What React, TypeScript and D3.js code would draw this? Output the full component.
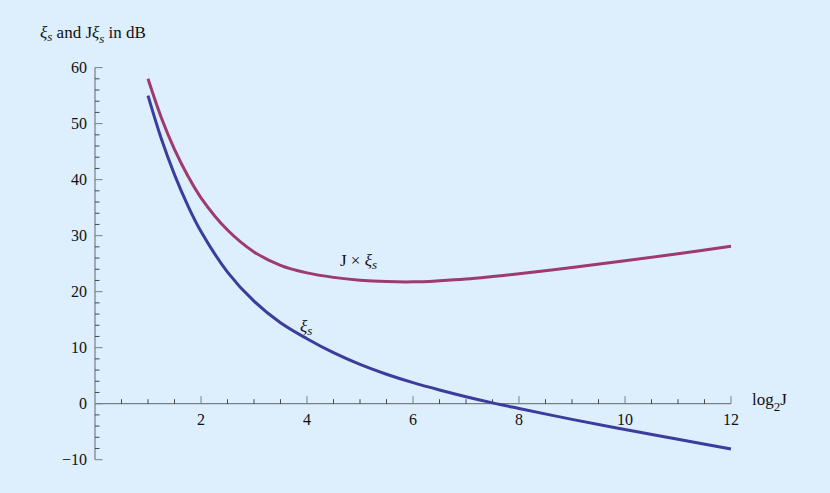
import React from "react";
import * as d3 from "d3";

const W = 830;
const H = 493;

const xValues = [1, 1.25, 1.5, 1.75, 2, 2.5, 3, 3.5, 4, 4.5, 5, 5.5, 6, 6.5, 7, 7.5, 8, 9, 10, 11, 12];
const xiS = [55.0, 47.35, 40.9, 35.4, 30.74, 23.5, 18.3, 14.45, 11.6, 9.1, 7.0, 5.25, 3.75, 2.45, 1.25, 0.15, -0.85, -2.8, -4.6, -6.35, -8.1];
const jXiS = [58.0, 51.1, 45.4, 40.7, 36.76, 31.0, 27.1, 24.7, 23.35, 22.55, 22.05, 21.8, 21.75, 21.95, 22.25, 22.7, 23.2, 24.3, 25.5, 26.75, 28.1];

const xMajorTicks = [2, 4, 6, 8, 10, 12];
const yMajorTicks = [-10, 0, 10, 20, 30, 40, 50, 60];

const BG = "#ddeefd";
const AXIS = "#7a7f88";
const BLUE = "#3c3c9d";
const PURPLE = "#9d3a6e";
const FONT = "'Liberation Serif', 'DejaVu Serif', serif";

export default function App() {
  const x = d3.scaleLinear().domain([0, 12]).range([95, 731]);
  const y = d3.scaleLinear().domain([-10, 60]).range([459.7, 67.6]);

  const line = (vals: number[]) =>
    d3
      .line<number>()
      .x((_, i) => x(xValues[i]))
      .y((d) => y(d))
      .curve(d3.curveCatmullRom.alpha(0.5))(vals) || "";

  const xMinor = d3.range(1, 25).map((k) => k * 0.5).filter((v) => !xMajorTicks.includes(v));
  const yMinor = d3.range(-10, 61, 2).filter((v) => v % 10 !== 0);

  const x0 = x(0);
  const y0 = y(0);

  return (
    <div style={{ position: "absolute", left: 0, top: 0 }}>
      <svg width={W} height={H} style={{ display: "block" }}>
        <rect x={0} y={0} width={W} height={H} fill={BG} />
        {/* axes */}
        <line x1={x0} x2={x(12)} y1={y0} y2={y0} stroke={AXIS} strokeWidth={1.2} />
        <line x1={x0} x2={x0} y1={y(-10)} y2={y(60)} stroke={AXIS} strokeWidth={1.2} />
        {xMajorTicks.map((t) => (
          <g key={"xm" + t}>
            <line x1={x(t)} x2={x(t)} y1={y0} y2={y0 - 7.5} stroke={AXIS} strokeWidth={1} />
            <text x={x(t)} y={y0 + 21} textAnchor="middle" fontFamily={FONT} fontSize={16} fill="#111">
              {t}
            </text>
          </g>
        ))}
        {xMinor.map((t) => (
          <line key={"xn" + t} x1={x(t)} x2={x(t)} y1={y0} y2={y0 - 4.5} stroke="#333" strokeWidth={0.9} />
        ))}
        {yMajorTicks.map((t) => (
          <g key={"ym" + t}>
            <line x1={x0} x2={x0 + 7.5} y1={y(t)} y2={y(t)} stroke={AXIS} strokeWidth={1} />
            <text x={87} y={y(t) + 5.5} textAnchor="end" fontFamily={FONT} fontSize={16} fill="#111">
              {t < 0 ? "\u2212" + Math.abs(t) : t}
            </text>
          </g>
        ))}
        {yMinor.map((t) => (
          <line key={"yn" + t} x1={x0} x2={x0 + 4.5} y1={y(t)} y2={y(t)} stroke="#333" strokeWidth={0.9} />
        ))}
        {/* curves */}
        <path d={line(jXiS)} fill="none" stroke={PURPLE} strokeWidth={3} />
        <path d={line(xiS)} fill="none" stroke={BLUE} strokeWidth={3} />
        {/* labels */}
        <text x={40} y={38} fontFamily={FONT} fontSize={17} fill="#111">
          <tspan fontStyle="italic">ξ</tspan>
          <tspan fontStyle="italic" fontSize={13} dy={3}>s</tspan>
          <tspan dy={-3}> and J</tspan>
          <tspan fontStyle="italic">ξ</tspan>
          <tspan fontStyle="italic" fontSize={13} dy={5}>s</tspan>
          <tspan dy={-5}> in dB</tspan>
        </text>
        <text x={752} y={405} fontFamily={FONT} fontSize={17} fill="#111">
          <tspan>log</tspan>
          <tspan fontSize={13} dy={6}>2</tspan>
          <tspan dy={-6}>J</tspan>
        </text>
        <text x={340} y={266} fontFamily={FONT} fontSize={17} fill="#111">
          <tspan>J × </tspan>
          <tspan fontStyle="italic">ξ</tspan>
          <tspan fontStyle="italic" fontSize={13} dy={3}>s</tspan>
        </text>
        <text x={300} y={332} fontFamily={FONT} fontSize={17} fill="#111">
          <tspan fontStyle="italic">ξ</tspan>
          <tspan fontStyle="italic" fontSize={13} dy={3}>s</tspan>
        </text>
      </svg>
    </div>
  );
}
